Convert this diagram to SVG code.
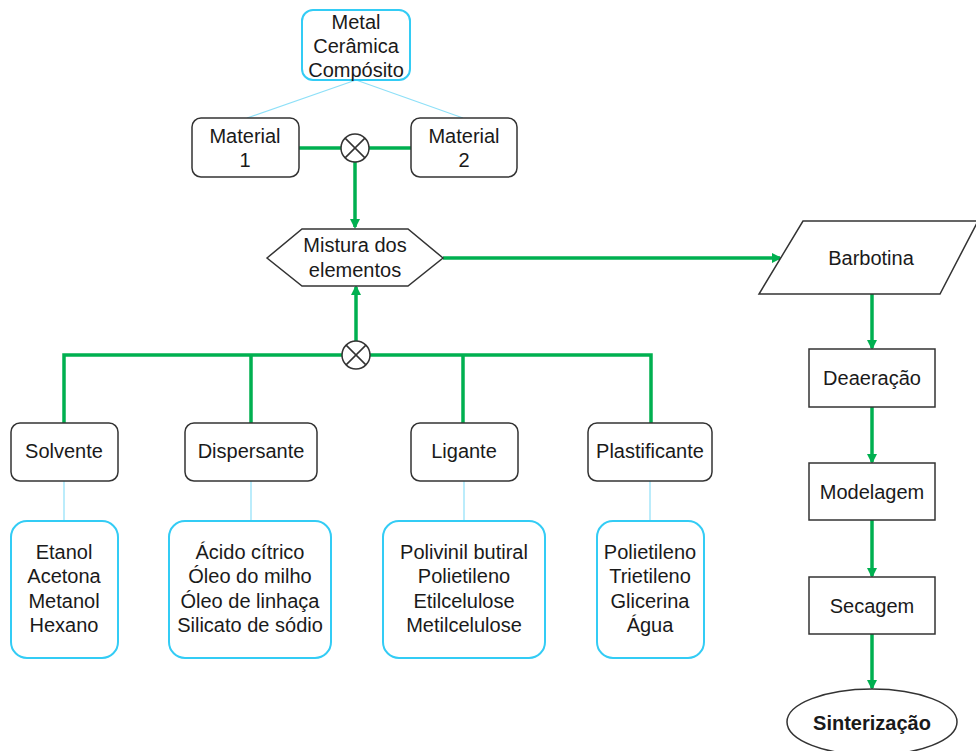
<svg xmlns="http://www.w3.org/2000/svg" width="976" height="751" viewBox="0 0 976 751">
<defs>
<marker id="ah" markerWidth="10" markerHeight="10" refX="8" refY="5" orient="auto" markerUnits="userSpaceOnUse">
<path d="M0,0 L10,5 L0,10 z" fill="#00b050"/>
</marker>
<style>
text{font-family:"Liberation Sans",Arial,sans-serif;font-size:20px;fill:#1a1a1a;text-anchor:middle}
.n{fill:#fff;stroke:#333;stroke-width:1.5}
.c{fill:#fff;stroke:#33ccf5;stroke-width:2}
.g{fill:none;stroke:#00b050;stroke-width:3.5}
.t{fill:none;stroke:#8ee0f8;stroke-width:1.2}
.x{fill:#fff;stroke:#333;stroke-width:1.5}
</style>
</defs>
<rect width="976" height="751" fill="#fff"/>
<g id="connectors">
<line class="t" x1="356" y1="80" x2="247" y2="118"/>
<line class="t" x1="356" y1="80" x2="463" y2="118"/>
<line class="t" x1="64" y1="481" x2="64" y2="521"/>
<line class="t" x1="251" y1="481" x2="251" y2="521"/>
<line class="t" x1="464" y1="481" x2="464" y2="521"/>
<line class="t" x1="650" y1="481" x2="650" y2="521"/>
<line class="g" x1="299" y1="148" x2="341" y2="148"/>
<line class="g" x1="369" y1="148" x2="411" y2="148"/>
<line class="g" x1="355" y1="162" x2="355" y2="227" marker-end="url(#ah)"/>
<line class="g" x1="356" y1="341" x2="356" y2="287" marker-end="url(#ah)"/>
<path class="g" d="M64,424 V355 H342 M370,355 H651 V424 M251,424 V355 M463,424 V355"/>
<line class="g" x1="443" y1="258" x2="780" y2="258" marker-end="url(#ah)"/>
<line class="g" x1="872" y1="294" x2="872" y2="348" marker-end="url(#ah)"/>
<line class="g" x1="872" y1="407" x2="872" y2="462" marker-end="url(#ah)"/>
<line class="g" x1="872" y1="520" x2="872" y2="576" marker-end="url(#ah)"/>
<line class="g" x1="872" y1="634" x2="872" y2="688" marker-end="url(#ah)"/>
</g>
<g id="materials">
<rect class="c" x="302" y="10" width="108" height="70" rx="11"/>
<text x="356" y="29">Metal</text>
<text x="356" y="53">Cerâmica</text>
<text x="356" y="77">Compósito</text>
</g>
<g id="material1">
<rect class="n" x="192" y="118" width="107" height="59" rx="9"/>
<text x="245" y="143">Material</text>
<text x="245" y="167">1</text>
</g>
<g id="material2">
<rect class="n" x="411" y="118" width="106" height="59" rx="9"/>
<text x="464" y="143">Material</text>
<text x="464" y="167">2</text>
</g>
<g id="xor1">
<circle class="x" cx="355" cy="148" r="14"/>
<path d="M345.1,138.1 L364.9,157.9 M364.9,138.1 L345.1,157.9" stroke="#333" stroke-width="1.5"/>
</g>
<g id="mistura">
<polygon class="n" points="267,258 302,229 408,229 443,258 408,286 302,286"/>
<text x="355" y="252">Mistura dos</text>
<text x="355" y="277">elementos</text>
</g>
<g id="xor2">
<circle class="x" cx="356" cy="355" r="14"/>
<path d="M346.1,345.1 L365.9,364.9 M365.9,345.1 L346.1,364.9" stroke="#333" stroke-width="1.5"/>
</g>
<g id="solvente">
<rect class="n" x="11" y="423" width="107" height="58" rx="9"/>
<text x="64" y="458">Solvente</text>
</g>
<g id="dispersante">
<rect class="n" x="185" y="423" width="132" height="58" rx="9"/>
<text x="251" y="458">Dispersante</text>
</g>
<g id="ligante">
<rect class="n" x="411" y="423" width="107" height="58" rx="9"/>
<text x="464" y="458">Ligante</text>
</g>
<g id="plastificante">
<rect class="n" x="588" y="423" width="124" height="58" rx="9"/>
<text x="650" y="458">Plastificante</text>
</g>
<g id="lista-solvente">
<rect class="c" x="11" y="521" width="107" height="137" rx="16"/>
<text x="64" y="559">Etanol</text>
<text x="64" y="583">Acetona</text>
<text x="64" y="608">Metanol</text>
<text x="64" y="632">Hexano</text>
</g>
<g id="lista-dispersante">
<rect class="c" x="169" y="521" width="162" height="137" rx="16"/>
<text x="250" y="559">Ácido cítrico</text>
<text x="250" y="583">Óleo do milho</text>
<text x="250" y="608">Óleo de linhaça</text>
<text x="250" y="632">Silicato de sódio</text>
</g>
<g id="lista-ligante">
<rect class="c" x="383" y="521" width="162" height="137" rx="16"/>
<text x="464" y="559">Polivinil butiral</text>
<text x="464" y="583">Polietileno</text>
<text x="464" y="608">Etilcelulose</text>
<text x="464" y="632">Metilcelulose</text>
</g>
<g id="lista-plastificante">
<rect class="c" x="597" y="521" width="107" height="137" rx="16"/>
<text x="650" y="559">Polietileno</text>
<text x="650" y="583">Trietileno</text>
<text x="650" y="608">Glicerina</text>
<text x="650" y="632">Água</text>
</g>
<g id="barbotina">
<polygon class="n" points="803,221 978,221 940,294 759,294"/>
<text x="871" y="265">Barbotina</text>
</g>
<g id="deaeracao">
<rect class="n" x="809" y="349" width="126" height="58"/>
<text x="872" y="385">Deaeração</text>
</g>
<g id="modelagem">
<rect class="n" x="809" y="463" width="126" height="57"/>
<text x="872" y="499">Modelagem</text>
</g>
<g id="secagem">
<rect class="n" x="809" y="577" width="126" height="57"/>
<text x="872" y="613">Secagem</text>
</g>
<g id="sinterizacao">
<ellipse class="n" cx="872" cy="722" rx="85" ry="33"/>
<text x="872" y="730" font-weight="bold">Sinterização</text>
</g>
</svg>
